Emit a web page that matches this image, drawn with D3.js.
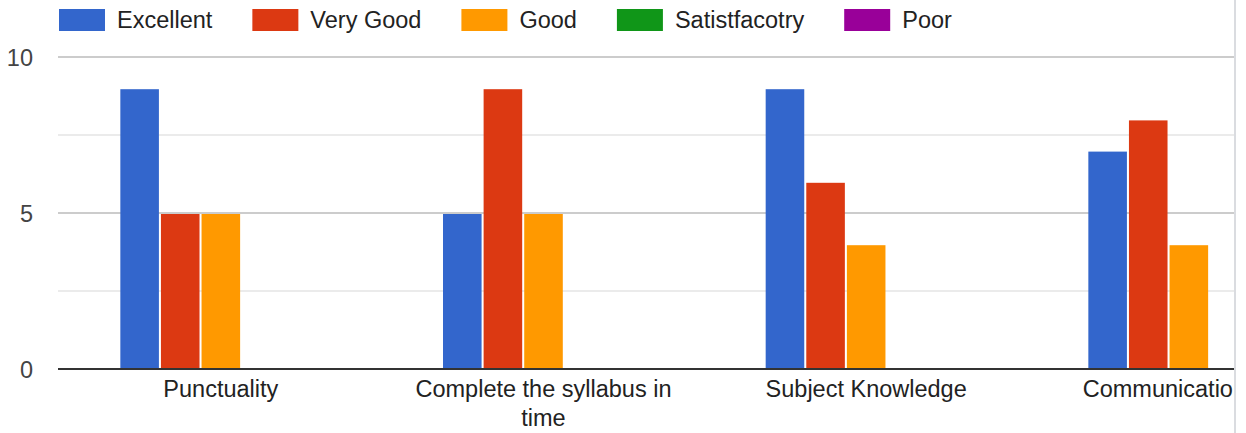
<!DOCTYPE html>
<html>
<head>
<meta charset="utf-8">
<script src="https://cdn.jsdelivr.net/npm/d3@7"></script>
<style>
  html, body { margin: 0; padding: 0; background: #fff; }
  svg { display: block; font-family: "Liberation Sans", Arial, sans-serif; }
</style>
</head>
<body>
<svg id="chart" width="1246" height="433"></svg>
<script>
const categories = ["Punctuality", "Complete the syllabus in time", "Subject Knowledge", "Communication"];
const seriesNames = ["Excellent", "Very Good", "Good", "Satistfacotry", "Poor"];
const seriesColors = ["#3366cc", "#dc3912", "#ff9900", "#109618", "#990099"];
const excellent = [9, 5, 9, 7];
const veryGood = [5, 9, 6, 8];
const good = [5, 5, 4, 4];
const satisfactory = [0, 0, 0, 0];
const poor = [0, 0, 0, 0];
const yTicks = [0, 5, 10];
const yMinorTicks = [2.5, 7.5];

const seriesValues = [excellent, veryGood, good, satisfactory, poor];

const W = 1246, H = 433;
const fontSize = 23.5;
const plotLeft = 58, plotRight = 1234;
const svg = d3.select("#chart");

const y = d3.scaleLinear().domain([0, 10]).range([369, 57]);
const bandW = 322.67;
const x0 = d3.scaleBand().domain(categories).range([59.5, 59.5 + bandW * categories.length]).padding(0);
const x1 = d3.scaleBand().domain(seriesNames).range([0, 201]).paddingInner(0.05).paddingOuter(0);
const groupOffset = (x0.bandwidth() - 201) / 2;

const clip = svg.append("defs").append("clipPath").attr("id", "plotclip")
  .append("rect").attr("x", 0).attr("y", 0).attr("width", plotRight).attr("height", H);

const plot = svg.append("g").attr("clip-path", "url(#plotclip)");

// gridlines
plot.append("g").selectAll("line.minor").data(yMinorTicks).join("line")
  .attr("x1", plotLeft).attr("x2", plotRight)
  .attr("y1", d => y(d)).attr("y2", d => y(d))
  .attr("stroke", "#ebebeb").attr("stroke-width", 2);
plot.append("g").selectAll("line.major").data(yTicks.filter(t => t !== 0)).join("line")
  .attr("x1", plotLeft).attr("x2", plotRight)
  .attr("y1", d => y(d)).attr("y2", d => y(d))
  .attr("stroke", "#cccccc").attr("stroke-width", 2);

// bars
const groups = plot.append("g").selectAll("g").data(categories).join("g")
  .attr("transform", d => `translate(${x0(d) + groupOffset},0)`);
groups.selectAll("rect").data((c, ci) => seriesNames.map((s, si) => ({ s, si, v: seriesValues[si][ci] })))
  .join("rect")
  .filter(d => d.v > 0)
  .attr("x", d => x1(d.s))
  .attr("width", x1.bandwidth())
  .attr("y", d => y(d.v) + 1)
  .attr("height", d => y(0) - y(d.v) - 1)
  .attr("fill", d => seriesColors[d.si]);

// baseline
plot.append("line").attr("x1", plotLeft).attr("x2", plotRight)
  .attr("y1", y(0)).attr("y2", y(0)).attr("stroke", "#333333").attr("stroke-width", 2);

// y tick labels
svg.append("g").selectAll("text").data(yTicks).join("text")
  .attr("x", 33).attr("y", d => y(d) + 9.3)
  .attr("text-anchor", "end").attr("font-size", fontSize).attr("fill", "#444444")
  .text(d => d);

// category labels with wrapping
const labelsG = plot.append("g");
const maxLabelW = 290;
categories.forEach(cat => {
  const cx = x0(cat) + x0.bandwidth() / 2;
  const t = labelsG.append("text").attr("font-size", fontSize).attr("fill", "#222222").attr("text-anchor", "middle");
  const words = cat.split(" ");
  let lines = [], cur = [];
  const probe = svg.append("text").attr("font-size", fontSize);
  words.forEach(w => {
    const test = cur.concat([w]).join(" ");
    probe.text(test);
    if (probe.node().getComputedTextLength() > maxLabelW && cur.length) {
      lines.push(cur.join(" "));
      cur = [w];
    } else cur.push(w);
  });
  lines.push(cur.join(" "));
  let maxW = 0;
  lines.forEach(l => { probe.text(l); maxW = Math.max(maxW, probe.node().getComputedTextLength()); });
  probe.remove();
  let lx = cx;
  if (lx + maxW / 2 > W) lx = W - maxW / 2;
  lines.forEach((l, i) => {
    t.append("tspan").attr("x", lx).attr("y", 397 + i * 29).text(l);
  });
});

// right edge border
svg.append("rect").attr("x", 1236).attr("y", 0).attr("width", W - 1236).attr("height", H).attr("fill", "#ffffff");
svg.append("line").attr("x1", 1235).attr("x2", 1235).attr("y1", 0).attr("y2", H)
  .attr("stroke", "#dadce0").attr("stroke-width", 2);

// legend
const legend = svg.append("g");
let lxPos = 59;
seriesNames.forEach((s, i) => {
  legend.append("rect").attr("x", lxPos).attr("y", 9).attr("width", 46).attr("height", 22)
    .attr("fill", seriesColors[i]);
  const tx = legend.append("text").attr("x", lxPos + 58).attr("y", 28)
    .attr("font-size", fontSize).attr("fill", "#222222").text(s);
  lxPos = lxPos + 58 + tx.node().getComputedTextLength() + 40;
});
</script>
</body>
</html>
